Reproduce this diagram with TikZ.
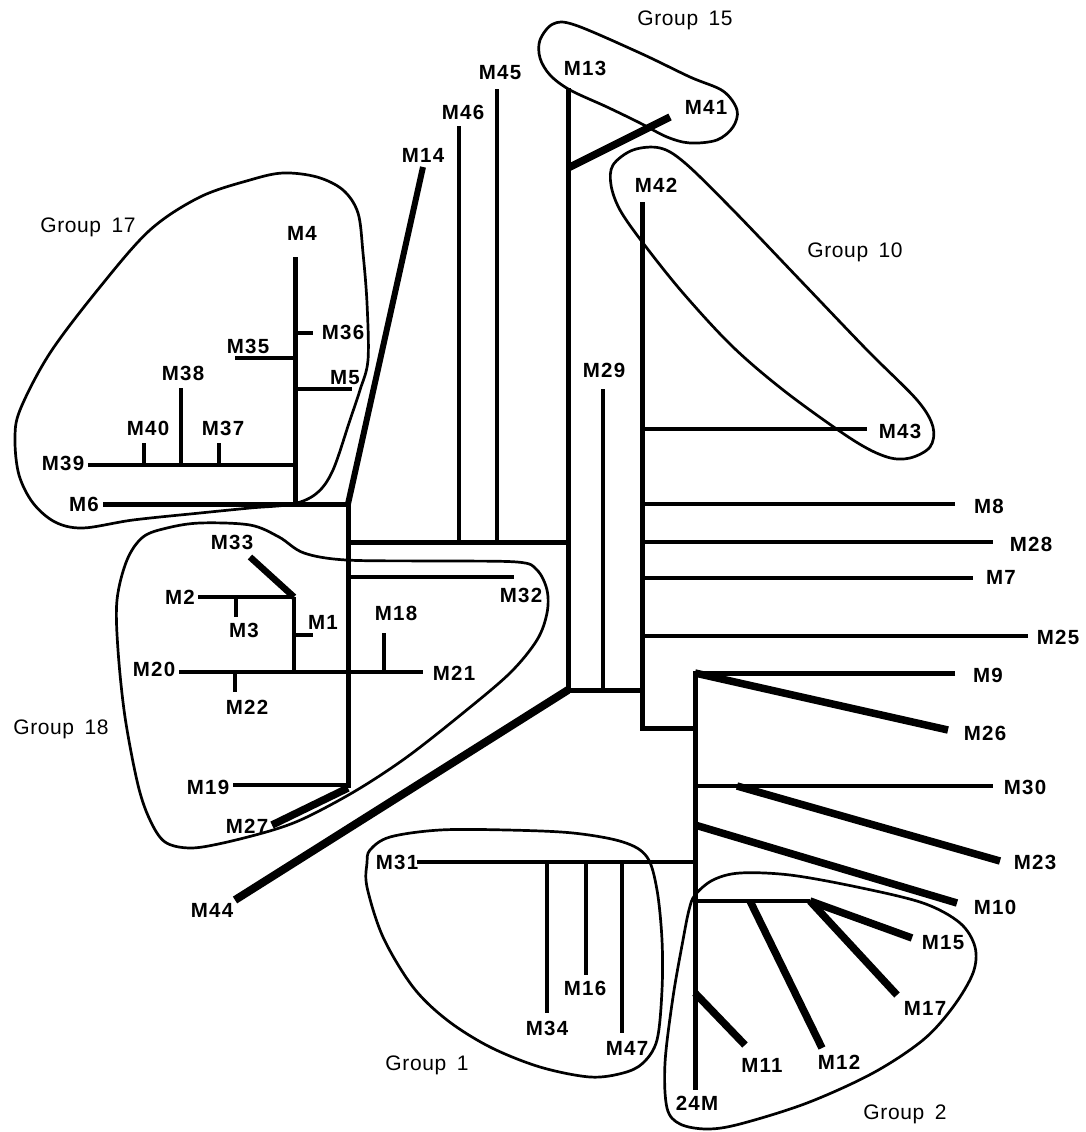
\documentclass[tikz,border=0pt]{standalone}
\usepackage{fontspec}
\setmainfont{Liberation Sans}
\newfontfamily\labfont[LetterSpace=6]{Liberation Sans}
\newfontfamily\grpfont[LetterSpace=3]{Liberation Sans}
\begin{document}
\begin{tikzpicture}[x=1pt,y=-1pt,
  br/.style={line width=4.5pt, line cap=butt, line join=miter},
  tk/.style={line width=7.5pt, line cap=butt},
  grp/.style={line width=2.7pt, line join=round},
  lab/.style={font=\labfont\fontsize{20.5}{21}\selectfont\bfseries, inner sep=0pt},
  glab/.style={font=\grpfont\fontsize{21}{22}\selectfont, inner sep=0pt, text depth=0pt}]
\useasboundingbox (0,0) rectangle (1085,1132);
% ---------- left tree ----------
\coordinate (a6) at (348,504);
\coordinate (l6) at (103,504);
\coordinate (l14) at (423,167);
\coordinate (b4) at (295,504);
\coordinate (l4) at (295,257);
\coordinate (j36) at (295,333); \coordinate (l36) at (313,333);
\coordinate (j35) at (295,358); \coordinate (l35) at (235,358);
\coordinate (j5) at (295,389);  \coordinate (l5) at (352,389);
\coordinate (j39) at (295,465); \coordinate (l39) at (88,465);
\coordinate (j40) at (144,465); \coordinate (l40) at (144,443);
\coordinate (j38) at (181,465); \coordinate (l38) at (181,388);
\coordinate (j37) at (219,465); \coordinate (l37) at (219,443);
\coordinate (a7) at (348,788);
\coordinate (a1) at (348,542); \coordinate (c1) at (568,542);
\coordinate (j46) at (459,542); \coordinate (l46) at (459,126);
\coordinate (j45) at (497,542); \coordinate (l45) at (497,89);
\coordinate (a2) at (348,577); \coordinate (l32) at (514,577);
\coordinate (l20) at (179,672); \coordinate (l21) at (423,672);
\coordinate (j18) at (384,672); \coordinate (l18) at (384,633);
\coordinate (j22) at (235,672); \coordinate (l22) at (235,692);
\coordinate (d1) at (294,672); \coordinate (d2) at (294,597);
\coordinate (l2) at (198,597); \coordinate (l33) at (250,557);
\coordinate (j3) at (236,597); \coordinate (l3) at (236,617);
\coordinate (j1) at (294,635); \coordinate (l1) at (313,635);
\coordinate (j19) at (348,785); \coordinate (l19) at (233,785);
\coordinate (l27) at (272,825);
% ---------- centre ----------
\coordinate (c0) at (568,88);
\coordinate (j41) at (568,168); \coordinate (l41) at (670,117);
\coordinate (c2) at (568,690);
\coordinate (l44) at (235,900);
\coordinate (c3) at (642,690);
\coordinate (j29) at (603,690); \coordinate (l29) at (603,389);
\coordinate (e0) at (642,202); \coordinate (e1) at (642,728); \coordinate (e2) at (695,728);
\coordinate (j43) at (642,429); \coordinate (l43) at (867,429);
\coordinate (j8) at (642,504);  \coordinate (l8) at (955,504);
\coordinate (j28) at (642,542); \coordinate (l28) at (993,542);
\coordinate (j7) at (642,578);  \coordinate (l7) at (973,578);
\coordinate (j25) at (642,636); \coordinate (l25) at (1028,636);
% ---------- right / bottom ----------
\coordinate (f0) at (695,673); \coordinate (l9) at (955,673); \coordinate (f1) at (695,1090);
\coordinate (l26) at (948,730);
\coordinate (j30) at (695,786); \coordinate (l30) at (993,786);
\coordinate (j23) at (737,786); \coordinate (l23) at (1000,861);
\coordinate (j10) at (695,825); \coordinate (l10) at (957,903);
\coordinate (j31) at (695,862); \coordinate (l31) at (417,862);
\coordinate (j34) at (547,862); \coordinate (l34) at (547,1013);
\coordinate (j16) at (586,862); \coordinate (l16) at (586,975);
\coordinate (j47) at (622,862); \coordinate (l47) at (622,1033);
\coordinate (g0) at (695,901); \coordinate (g1) at (810,901);
\coordinate (l15) at (912,938); \coordinate (l17) at (897,995);
\coordinate (j12) at (750,901); \coordinate (l12) at (822,1048);
\coordinate (j11) at (695,993); \coordinate (l11) at (745,1045);

% ---------- edges ----------
\draw[br, line width=5pt] (l6) -- (a6) -- (a7);
\draw[br, line width=6pt] (a6) -- (l14);
\draw[br, line width=5pt] (l4) -- (b4);
\draw[br] (j36) -- (l36);
\draw[br] (j35) -- (l35);
\draw[br] (j5) -- (l5);
\draw[br] (j39) -- (l39);
\draw[br] (j40) -- (l40);
\draw[br] (j38) -- (l38);
\draw[br] (j37) -- (l37);
\draw[br, line width=5pt] (a1) -- (c1);
\draw[br] (j46) -- (l46);
\draw[br] (j45) -- (l45);
\draw[br] (a2) -- (l32);
\draw[br] (l20) -- (l21);
\draw[br] (j18) -- (l18);
\draw[br] (j22) -- (l22);
\draw[br] (d1) -- (d2);
\draw[br] (l2) -- (d2);
\draw[tk, line width=6.5pt] (d2) -- (l33);
\draw[br] (j3) -- (l3);
\draw[br] (j1) -- (l1);
\draw[br] (j19) -- (l19);
\draw[tk] (a7) -- (l27);

\draw[br, line width=5pt] (c0) -- (c2) -- (c3);
\draw[tk] (j41) -- (l41);
\draw[tk, line width=8pt] (c2) -- (l44);
\draw[br] (j29) -- (l29);
\draw[br, line width=5pt] (e0) -- (e1) -- (e2);
\draw[br] (j43) -- (l43);
\draw[br] (j8) -- (l8);
\draw[br] (j28) -- (l28);
\draw[br] (j7) -- (l7);
\draw[br] (j25) -- (l25);

\draw[br, line width=5pt] (l9) -- (f0) -- (f1);
\draw[tk] (f0) -- (l26);
\draw[br] (j30) -- (l30);
\draw[tk] (j23) -- (l23);
\draw[tk] (j10) -- (l10);
\draw[br] (j31) -- (l31);
\draw[br] (j34) -- (l34);
\draw[br] (j16) -- (l16);
\draw[br] (j47) -- (l47);
\draw[br] (g0) -- (g1);
\draw[tk] (g1) -- (l15);
\draw[tk] (g1) -- (l17);
\draw[tk] (j12) -- (l12);
\draw[tk] (j11) -- (l11);

% ---------- group outlines ----------
\draw[grp] plot[smooth cycle, tension=0.55] coordinates {
  (15,440) (20,410) (50,353) (100,287) (150,230) (200,197) (250,180) (283,173)
  (317,177) (343,190) (358,213) (363,253) (367,303) (368,360) (360,390)
  (350,420) (333,470) (317,493) (293,504) (250,508) (200,513) (133,520)
  (83,528) (55,522) (33,503) (19,475)};
\draw[grp] plot[smooth cycle, tension=0.55] coordinates {
  (570,90) (550,75) (540,58) (540,40) (553,24) (575,25) (640,53) (690,77)
  (723,91) (737,110) (733,127) (717,140) (690,143) (667,137) (640,123) (607,107)};
\draw[grp] plot[smooth cycle, tension=0.55] coordinates {
  (613,165) (633,150) (660,148) (685,163) (733,210) (800,280) (867,350)
  (917,400) (933,427) (930,447) (910,458) (887,457) (853,440) (787,393)
  (733,347) (683,293) (643,243) (620,210) (611,185)};
\draw[grp] plot[smooth cycle, tension=0.55] coordinates {
  (127,560) (143,537) (167,528) (200,523) (250,525) (279,537) (304,553)
  (346,560) (430,561) (517,562) (537,570) (547,590) (547,613) (537,640)
  (510,673) (463,713) (407,757) (357,790) (307,817) (273,830) (223,843)
  (190,848) (165,842) (150,820) (138,785) (125,717) (118,650) (117,600)};
\draw[grp] plot[smooth cycle, tension=0.55] coordinates {
  (370,850) (390,837) (440,830) (507,830) (573,833) (623,842) (647,857)
  (657,890) (662,940) (662,990) (657,1040) (643,1063) (623,1073) (590,1077)
  (540,1067) (490,1047) (447,1020) (413,987) (383,937) (367,887) (367,863)};
\draw[grp] plot[smooth cycle, tension=0.55] coordinates {
  (695,895) (713,880) (740,873) (790,875) (857,887) (923,903) (960,923)
  (975,947) (973,973) (953,1007) (923,1040) (873,1073) (807,1103) (740,1124)
  (707,1129) (680,1124) (667,1108) (665,1063) (673,997) (683,940) (689,910)};

% ---------- labels ----------
\node[lab] (tM4) at (302,233) {M4};
\node[lab] (tM36) at (343,332) {M36};
\node[lab] (tM35) at (248,346) {M35};
\node[lab] (tM5) at (345,378) {M5};
\node[lab] (tM38) at (183,373) {M38};
\node[lab] (tM40) at (148,428) {M40};
\node[lab] (tM37) at (223,428) {M37};
\node[lab] (tM39) at (63,463) {M39};
\node[lab] (tM6) at (84,504) {M6};
\node[lab] (tM14) at (423,155) {M14};
\node[lab] (tM46) at (463,112) {M46};
\node[lab] (tM45) at (500,73) {M45};
\node[lab] (tM13) at (585,68) {M13};
\node[lab] (tM41) at (706,107) {M41};
\node[lab] (tM42) at (656,185) {M42};
\node[lab] (tM29) at (604,370) {M29};
\node[lab] (tM43) at (900,431) {M43};
\node[lab] (tM8) at (989,506) {M8};
\node[lab] (tM28) at (1031,544) {M28};
\node[lab] (tM7) at (1001,577) {M7};
\node[lab] (tM25) at (1058,637) {M25};
\node[lab] (tM9) at (988,675) {M9};
\node[lab] (tM26) at (985,733) {M26};
\node[lab] (tM30) at (1025,787) {M30};
\node[lab] (tM23) at (1035,862) {M23};
\node[lab] (tM10) at (995,907) {M10};
\node[lab] (tM15) at (943,943) {M15};
\node[lab] (tM17) at (925,1008) {M17};
\node[lab] (tM12) at (839,1062) {M12};
\node[lab] (tM11) at (762,1065) {M11};
\node[lab] (t24M) at (697,1103) {24M};
\node[lab] (tM34) at (547,1028) {M34};
\node[lab] (tM16) at (585,988) {M16};
\node[lab] (tM47) at (627,1048) {M47};
\node[lab] (tM31) at (397,862) {M31};
\node[lab] (tM44) at (212,910) {M44};
\node[lab] (tM27) at (247,826) {M27};
\node[lab] (tM19) at (208,787) {M19};
\node[lab] (tM20) at (154,669) {M20};
\node[lab] (tM22) at (247,707) {M22};
\node[lab] (tM21) at (454,673) {M21};
\node[lab] (tM18) at (396,613) {M18};
\node[lab] (tM3) at (244,630) {M3};
\node[lab] (tM2) at (180,597) {M2};
\node[lab] (tM1) at (323,622) {M1};
\node[lab] (tM33) at (232,542) {M33};
\node[lab] (tM32) at (521,595) {M32};

\node[glab] (g17) at (88,225) {Group\hspace{0.5em}17};
\node[glab] (g15) at (685,18) {Group\hspace{0.5em}15};
\node[glab] (g10) at (855,250) {Group\hspace{0.5em}10};
\node[glab] (g18) at (61,727) {Group\hspace{0.5em}18};
\node[glab] (g1) at (427,1063) {Group\hspace{0.5em}1};
\node[glab] (g2) at (905,1112) {Group\hspace{0.5em}2};
\end{tikzpicture}
\end{document}
